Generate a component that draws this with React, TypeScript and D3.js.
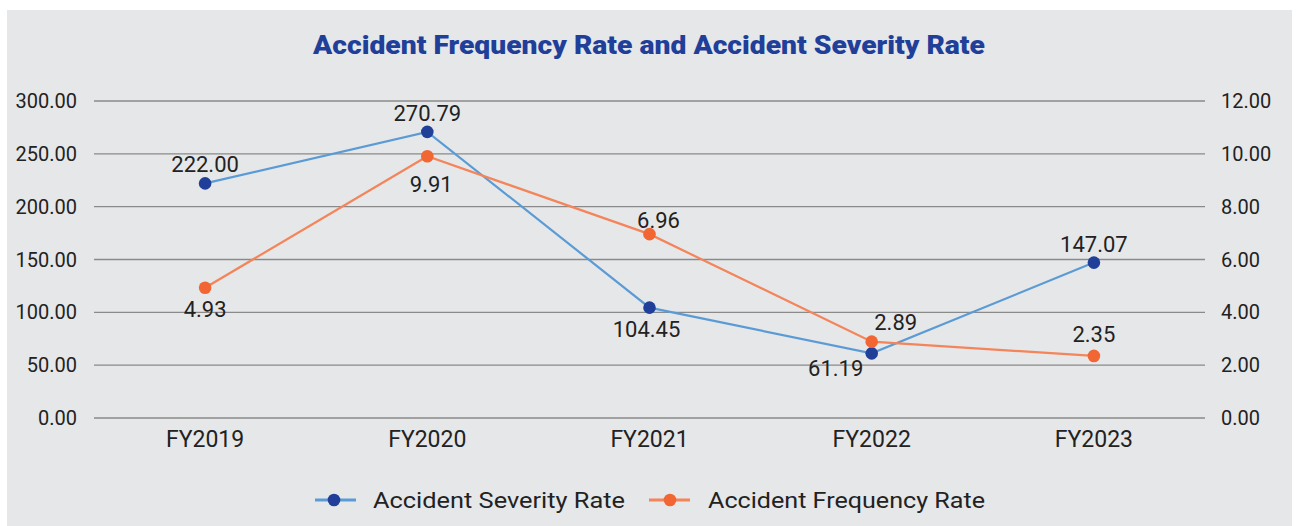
import React from "react";
import * as d3 from "d3";

const categories = ["FY2019", "FY2020", "FY2021", "FY2022", "FY2023"];
const severity = [222.0, 270.79, 104.45, 61.19, 147.07];
const frequency = [4.93, 9.91, 6.96, 2.89, 2.35];
const leftTicks = [0, 50, 100, 150, 200, 250, 300];
const rightTicks = [0, 2, 4, 6, 8, 10, 12];
const seriesNames = ["Accident Severity Rate", "Accident Frequency Rate"];

// label placement offsets (dx, dy from point to text baseline)
const sevLabelOff = [
  [0, -11],
  [0, -11],
  [-3, 29],
  [-36, 23],
  [0, -11],
];
const freqLabelOff = [
  [0, 29],
  [4, 36],
  [9, -6],
  [24, -12],
  [0, -14],
];

const W = 1296;
const H = 526;
const FONT = "Roboto, 'Noto Sans', sans-serif";
const SEV_LINE = "#5b9bd5";
const SEV_MARK = "#1f3f99";
const FREQ_LINE = "#f4845a";
const FREQ_MARK = "#f26633";

export default function App() {
  const left = 94;
  const right = 1205;
  const top = 101;
  const bottom = 418;

  const x = d3.scaleBand().domain(categories).range([left, right]);
  const cx = (c: string) => (x(c) as number) + x.bandwidth() / 2;
  const yL = d3.scaleLinear().domain([0, 300]).range([bottom, top]);
  const yR = d3.scaleLinear().domain([0, 12]).range([bottom, top]);

  const sevLine = d3
    .line<number>()
    .x((_, i) => cx(categories[i]))
    .y((d) => yL(d));
  const freqLine = d3
    .line<number>()
    .x((_, i) => cx(categories[i]))
    .y((d) => yR(d));

  const legend = [
    { name: seriesNames[0], line: SEV_LINE, mark: SEV_MARK, lx: 315, mx: 334, tx: 373, tw: 252 },
    { name: seriesNames[1], line: FREQ_LINE, mark: FREQ_MARK, lx: 649, mx: 670, tx: 708, tw: 277 },
  ];

  return (
    <svg
      width={W}
      height={H}
      style={{ position: "absolute", left: 0, top: 0, display: "block" }}
    >
      <rect x={0} y={0} width={W} height={H} fill="#ffffff" />
      <rect x={7} y={10} width={1285} height={H - 10} fill="#e6e7e9" />
      <text
        x={649}
        y={54}
        textAnchor="middle"
        fontFamily={FONT}
        fontWeight={900}
        fontSize={26}
        fill="#1f3f99"
        textLength={672}
        lengthAdjust="spacingAndGlyphs"
      >
        Accident Frequency Rate and Accident Severity Rate
      </text>

      {leftTicks.map((t) => (
        <g key={"l" + t}>
          <line
            x1={left}
            x2={right}
            y1={yL(t)}
            y2={yL(t)}
            stroke="#8a8a8a"
            strokeWidth={1.3}
          />
          <text
            x={77}
            y={yL(t) + 7}
            textAnchor="end"
            fontFamily={FONT}
            fontSize={20}
            fill="#222"
          >
            {t.toFixed(2)}
          </text>
        </g>
      ))}
      {rightTicks.map((t) => (
        <text
          key={"r" + t}
          x={1221}
          y={yR(t) + 7}
          textAnchor="start"
          fontFamily={FONT}
          fontSize={20}
          fill="#222"
        >
          {t.toFixed(2)}
        </text>
      ))}
      {categories.map((c) => (
        <text
          key={c}
          x={cx(c)}
          y={447}
          textAnchor="middle"
          fontFamily={FONT}
          fontSize={23}
          fill="#222"
        >
          {c}
        </text>
      ))}

      <path d={sevLine(severity) || ""} fill="none" stroke={SEV_LINE} strokeWidth={2.2} />
      <path d={freqLine(frequency) || ""} fill="none" stroke={FREQ_LINE} strokeWidth={2.2} />

      {severity.map((v, i) => (
        <circle key={"sm" + i} cx={cx(categories[i])} cy={yL(v)} r={6.3} fill={SEV_MARK} />
      ))}
      {frequency.map((v, i) => (
        <circle key={"fm" + i} cx={cx(categories[i])} cy={yR(v)} r={6.3} fill={FREQ_MARK} />
      ))}

      {severity.map((v, i) => (
        <text
          key={"sl" + i}
          x={cx(categories[i]) + sevLabelOff[i][0]}
          y={yL(v) + sevLabelOff[i][1]}
          textAnchor="middle"
          fontFamily={FONT}
          fontSize={22}
          fill="#222"
        >
          {v.toFixed(2)}
        </text>
      ))}
      {frequency.map((v, i) => (
        <text
          key={"fl" + i}
          x={cx(categories[i]) + freqLabelOff[i][0]}
          y={yR(v) + freqLabelOff[i][1]}
          textAnchor="middle"
          fontFamily={FONT}
          fontSize={22}
          fill="#222"
        >
          {v.toFixed(2)}
        </text>
      ))}

      {/* legend */}
      {legend.map((l) => (
        <g key={l.name}>
          <line x1={l.lx} x2={l.lx + 41} y1={500} y2={500} stroke={l.line} strokeWidth={3} />
          <circle cx={l.mx} cy={500} r={6.3} fill={l.mark} />
          <text
            x={l.tx}
            y={508}
            fontFamily={FONT}
            fontSize={22}
            fill="#222"
            textLength={l.tw}
            lengthAdjust="spacingAndGlyphs"
          >
            {l.name}
          </text>
        </g>
      ))}
    </svg>
  );
}
